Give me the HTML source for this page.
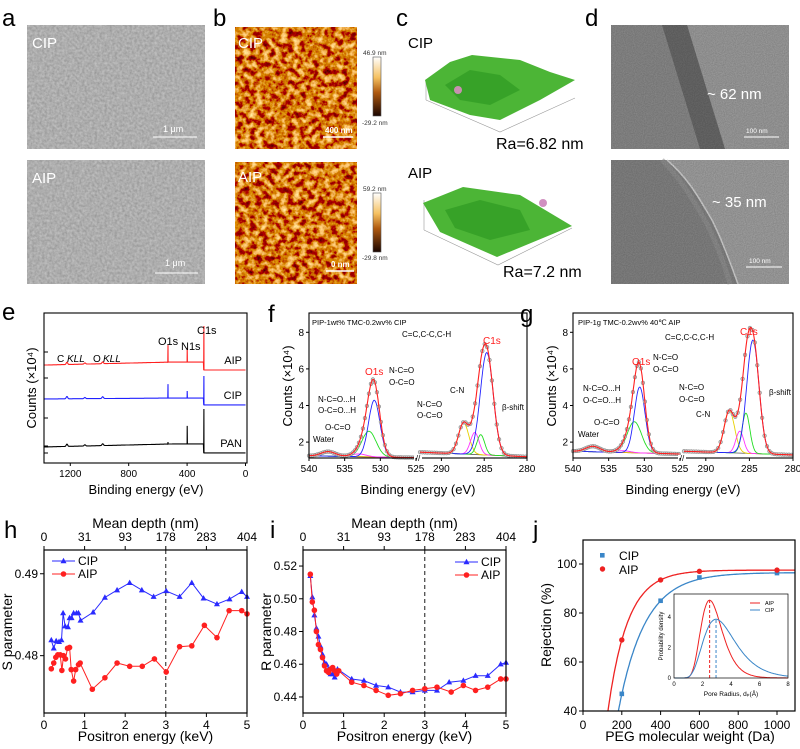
<!DOCTYPE html>
<html><head><meta charset="utf-8"><style>
html,body{margin:0;padding:0;background:#fff;overflow:hidden;width:800px;height:749px;}
svg{display:block;font-family:"Liberation Sans",Arial,sans-serif;}
</style></head><body>
<svg id="fig" xmlns="http://www.w3.org/2000/svg" width="800" height="749" viewBox="0 0 800 749">
<defs>
<filter id="semF" x="0" y="0" width="1" height="1"><feTurbulence type="fractalNoise" baseFrequency="0.4" numOctaves="2" seed="3"/><feColorMatrix type="matrix" values="0.3 0 0 0 0.27 0.3 0 0 0 0.27 0.3 0 0 0 0.27 0 0 0 0 1"/></filter>
<filter id="afmF" x="0" y="0" width="1" height="1"><feTurbulence type="fractalNoise" baseFrequency="0.16" numOctaves="3" seed="7"/><feColorMatrix type="matrix" values="1.6 0 0 0 -0.15 1.7 0 0 0 -0.65 1.0 0 0 0 -0.55 0 0 0 0 1"/></filter>
<filter id="temF" x="0" y="0" width="1" height="1"><feTurbulence type="fractalNoise" baseFrequency="0.9" numOctaves="1" seed="2"/><feColorMatrix type="matrix" values="0 0 0 0 0 0 0 0 0 0 0 0 0 0 0 0.25 0 0 0 0"/></filter>
<linearGradient id="cbar" x1="0" y1="0" x2="0" y2="1"><stop offset="0" stop-color="#ffffff"/><stop offset="0.35" stop-color="#f5c060"/><stop offset="0.6" stop-color="#b05a10"/><stop offset="1" stop-color="#1a0500"/></linearGradient>
</defs>

<g font-size="24" fill="#000">
<text x="2" y="26">a</text><text x="213" y="26">b</text><text x="396" y="26">c</text><text x="585" y="26">d</text>
<text x="2" y="320">e</text><text x="268" y="322">f</text><text x="520" y="322">g</text>
<text x="4" y="538">h</text><text x="270" y="538">i</text><text x="533" y="538">j</text>
</g>

<g>
<rect x="27" y="25" width="178" height="124" fill="#9a9a9a"/>
<rect x="27" y="25" width="178" height="124" filter="url(#semF)"/>
<rect x="27" y="160" width="178" height="124" fill="#9a9a9a"/>
<rect x="27" y="160" width="178" height="124" filter="url(#semF)"/>
<text x="32" y="48" font-size="15" fill="#fff">CIP</text>
<text x="32" y="183" font-size="15" fill="#fff">AIP</text>
<text x="163" y="132" font-size="9" fill="#fff">1 μm</text>
<line x1="153" y1="137" x2="197" y2="137" stroke="#fff" stroke-width="1"/>
<text x="165" y="266" font-size="9" fill="#fff">1 μm</text>
<line x1="155" y1="273" x2="198" y2="273" stroke="#fff" stroke-width="1"/>
</g>

<g>
<rect x="235" y="27" width="122" height="122" fill="#b86a18"/>
<rect x="235" y="27" width="122" height="122" filter="url(#afmF)"/>
<rect x="235" y="162" width="122" height="122" fill="#b86a18"/>
<rect x="235" y="162" width="122" height="122" filter="url(#afmF)"/>
<text x="238" y="48" font-size="15" fill="#fff">CIP</text>
<text x="238" y="182" font-size="15" fill="#fff">AIP</text>
<text x="325" y="133" font-size="8" font-weight="bold" fill="#fff">400 nm</text>
<line x1="323" y1="137" x2="353" y2="137" stroke="#fff" stroke-width="1.5"/>
<text x="331" y="267" font-size="8" font-weight="bold" fill="#fff">0 nm</text>
<line x1="326" y1="271" x2="354" y2="271" stroke="#fff" stroke-width="1.5"/>
<rect x="373" y="57" width="8" height="59" fill="url(#cbar)" stroke="#555" stroke-width="0.6"/>
<rect x="373" y="193" width="8" height="59" fill="url(#cbar)" stroke="#555" stroke-width="0.6"/>
<text x="363" y="55" font-size="6.5" fill="#333">46.9 nm</text>
<text x="362" y="125" font-size="6.5" fill="#333">-29.2 nm</text>
<text x="363" y="191" font-size="6.5" fill="#333">59.2 nm</text>
<text x="362" y="260" font-size="6.5" fill="#333">-29.8 nm</text>
</g>

<g>
<text x="408" y="48" font-size="15">CIP</text>
<polyline points="426,100 500,132 575,98" fill="none" stroke="#999" stroke-width="0.6"/>
<line x1="426" y1="80" x2="426" y2="100" stroke="#999" stroke-width="0.6"/>
<polygon points="425,80 450,62 472,55 520,60 550,72 575,80 540,100 500,120 470,115 430,100" fill="#4cb536"/>
<polygon points="445,85 470,70 500,75 520,90 490,105 460,100" fill="#2f9a22" opacity="0.7"/>
<circle cx="458" cy="90" r="4" fill="#c890b0"/>
<text x="496" y="149" font-size="16">Ra=6.82 nm</text>
<text x="408" y="178" font-size="15">AIP</text>
<polyline points="424,230 498,265 572,228" fill="none" stroke="#999" stroke-width="0.6"/>
<line x1="424" y1="200" x2="424" y2="230" stroke="#999" stroke-width="0.6"/>
<polygon points="423,203 463,187 520,195 572,226 497,257 440,232" fill="#4cb536"/>
<polygon points="445,210 480,200 520,210 530,230 490,240 455,228" fill="#2f9a22" opacity="0.7"/>
<circle cx="543" cy="203" r="4" fill="#d090c0"/>
<text x="503" y="277" font-size="16">Ra=7.2 nm</text>
</g>

<g>
<rect x="611" y="25" width="178" height="124" fill="#8e8e8e"/>
<polygon points="687,25 789,25 789,149 725,149" fill="#a2a2a2"/>
<polygon points="662,25 687,25 725,149 700,149" fill="#6c6c6c"/>
<rect x="611" y="25" width="178" height="124" filter="url(#temF)"/>
<text x="707" y="99" font-size="15" fill="#fff">~ 62 nm</text>
<text x="746" y="133" font-size="6.5" fill="#fff">100 nm</text>
<line x1="744" y1="137" x2="779" y2="137" stroke="#fff" stroke-width="1"/>
<rect x="611" y="160" width="178" height="124" fill="#878787"/>
<path d="M667,160 C690,180 700,200 712,220 C722,240 730,262 738,284 L789,284 L789,160 Z" fill="#a6a6a6"/>
<path d="M667,160 C690,180 700,200 712,220 C722,240 730,262 738,284" fill="none" stroke="#d8d8d8" stroke-width="1.5"/>
<path d="M662,160 C684,182 694,202 706,222 C716,242 724,262 730,284" fill="none" stroke="#9a9a9a" stroke-width="5" opacity="0.6"/>
<rect x="611" y="160" width="178" height="124" filter="url(#temF)"/>
<text x="712" y="207" font-size="15" fill="#fff">~ 35 nm</text>
<text x="749" y="263" font-size="6.5" fill="#fff">100 nm</text>
<line x1="746" y1="267" x2="782" y2="267" stroke="#fff" stroke-width="1"/>
</g>

<g id="charts"></g>
</svg>
<script>
// ===== Panel e: XPS survey (arbitrary count units) =====
const surveyNames = ["AIP","CIP","PAN"];
const surveyBaseLeft = [6.53, 4.27, 1.07];
const surveyBaseMid = [6.73, 4.33, 1.27];
const surveyBaseEnd = [6.2, 3.87, 0.67];
const surveyO1s = [1.13, 0.93, 0.13];
const surveyN1s = [0.93, 0.47, 1.2];
const surveyC1s = [2.4, 1.47, 2.33];
const surveyColors = ["#ff2020","#2020ff","#000000"];
// ===== Panels f, g =====
const fO_centers = [537.3, 533.0, 531.6, 530.85];
const fO_heights = [0.25, 0.15, 1.4, 3.1];
const fO_widths = [1.0, 1.0, 1.0, 0.8];
const fC_centers = [287.4, 286.1, 285.4, 284.7];
const fC_heights = [1.7, 1.2, 1.1, 5.6];
const fC_widths = [0.6, 0.5, 0.45, 0.75];
const gO_centers = [537.2, 533.0, 531.4, 530.65];
const gO_heights = [0.3, 0.1, 1.7, 3.6];
const gO_widths = [1.0, 1.0, 1.0, 0.75];
const gC_centers = [287.3, 286.1, 285.4, 284.6];
const gC_heights = [2.3, 1.2, 2.2, 6.2];
const gC_widths = [0.6, 0.45, 0.45, 0.7];
const oColors = ["#e8b000","#ff33ff","#22dd22","#2222ff"];
const cColors = ["#e8d000","#ff33ff","#22dd22","#2222ff"];
// ===== Panel h =====
const hE_CIP = [0.18,0.24,0.30,0.37,0.43,0.47,0.52,0.59,0.63,0.68,0.73,0.80,0.85,0.90,1.21,1.50,1.80,2.11,2.41,2.70,3.01,3.34,3.64,3.93,4.26,4.57,4.87,5.0];
const hS_CIP = [0.4819,0.4809,0.4818,0.4817,0.4819,0.4852,0.4836,0.4835,0.4846,0.4846,0.4852,0.4852,0.4852,0.4843,0.4853,0.4871,0.4880,0.4889,0.4880,0.4872,0.4879,0.4872,0.4889,0.4870,0.4863,0.4869,0.4878,0.4872];
const hE_AIP = [0.18,0.24,0.29,0.34,0.40,0.44,0.48,0.53,0.58,0.63,0.67,0.73,0.78,0.85,0.89,1.19,1.50,1.80,2.11,2.42,2.72,3.01,3.34,3.64,3.95,4.26,4.56,4.87,5.0];
const hS_AIP = [0.4784,0.4791,0.4798,0.4801,0.4801,0.4782,0.4800,0.4796,0.4809,0.4810,0.4783,0.4769,0.4783,0.4789,0.4791,0.4759,0.4773,0.4791,0.4787,0.4787,0.4796,0.4780,0.4811,0.4812,0.4837,0.4822,0.4855,0.4855,0.4851];
const depthTicks = ["0","31","93","178","283","404"];
const energyTicks = [0,1,2,3,4,5];
const sTicks = [0.48,0.49];
// ===== Panel i =====
const iE_CIP = [0.18,0.23,0.28,0.33,0.38,0.43,0.48,0.53,0.58,0.63,0.68,0.73,0.78,0.85,1.2,1.5,1.8,2.1,2.4,2.7,3.0,3.3,3.6,3.95,4.25,4.55,4.87,5.0];
const iR_CIP = [0.514,0.501,0.490,0.482,0.477,0.471,0.466,0.461,0.460,0.457,0.454,0.454,0.452,0.457,0.451,0.450,0.447,0.446,0.443,0.443,0.444,0.444,0.449,0.450,0.453,0.453,0.460,0.461];
const iE_AIP = [0.18,0.23,0.28,0.33,0.38,0.43,0.48,0.53,0.58,0.63,0.68,0.73,0.78,0.83,0.88,1.2,1.5,1.8,2.1,2.4,2.7,3.0,3.3,3.65,3.95,4.25,4.55,4.87,5.0];
const iR_AIP = [0.515,0.498,0.493,0.480,0.472,0.469,0.464,0.459,0.456,0.455,0.457,0.458,0.456,0.454,0.456,0.449,0.447,0.444,0.441,0.442,0.444,0.445,0.446,0.443,0.447,0.444,0.446,0.451,0.451];
const rTicks = [0.44,0.46,0.48,0.50,0.52];
// ===== Panel j =====
const pegMW = [200,400,600,1000];
const rejCIP = [47,85,94.5,96.3];
const rejAIP = [69,93.5,97,97.5];
const fitCIP = [96.5,109,137];
const fitAIP = [97.5,75,101.7];
const mwTicks = [0,200,400,600,800,1000];
const rejTicks = [40,60,80,100];
const poreMode = [2.5,2.95];
const porePeak = [5.1,3.85];
const poreSigma = [0.3,0.38];
const poreXTicks = [0,2,4,6,8];
const poreYTicks = [0,2,4];

const NS='http://www.w3.org/2000/svg';
const root=document.getElementById('charts');
function mk(tag,attrs,parent){const e=document.createElementNS(NS,tag);for(const k in attrs)e.setAttribute(k,attrs[k]);(parent||root).appendChild(e);return e;}
function txt(x,y,s,size,anchor,fill,parent){const t=mk('text',{x:x,y:y,'font-size':size,'text-anchor':anchor||'start',fill:fill||'#000'},parent);t.textContent=s;return t;}
function lin(d0,d1,p0,p1){return v=>p0+(v-d0)/(d1-d0)*(p1-p0);}
function gauss(x,c,h,w){return h*Math.exp(-(x-c)*(x-c)/(2*w*w));}

// ---------- Panel e ----------
(function(){
  const g=mk('g',{});
  
  
  const X=lin(0,1380,245.5,44), Y=lin(0,10,463,313);
  surveyNames.forEach((n,i)=>{
    const base=E=>{
      if(E>500) return surveyBaseLeft[i]+(surveyBaseMid[i]-surveyBaseLeft[i])*(1380-E)/880;
      if(E>286) return surveyBaseMid[i];
      return surveyBaseEnd[i];
    };
    const pts=[];
    for(let E=1380;E>=0;E-=2){
      let v=base(E)+gauss(E,1223,0.15,5)+gauss(E,1100,0.08,5)+gauss(E,978,0.12,5);
      pts.push([X(E).toFixed(1),Y(v).toFixed(1)]);
      if(E===532){pts.push([X(531).toFixed(1),Y(surveyBaseMid[i]+surveyO1s[i]).toFixed(1)]);}
      if(E===400){pts.push([X(399).toFixed(1),Y(surveyBaseMid[i]+surveyN1s[i]).toFixed(1)]);}
      if(E===286){pts.push([X(285).toFixed(1),Y(surveyBaseMid[i]+surveyC1s[i]).toFixed(1)]);}
    }
    const p=mk('polyline',{points:pts.map(q=>q.join(',')).join(' '),fill:'none',stroke:surveyColors[i],'stroke-width':1.1},g);
    
    
    const lb=txt(242,Y(surveyBaseEnd[i])-6,n,11,'end','#000',g);
    
    
  });
  mk('rect',{x:44,y:313,width:203,height:150,fill:'none',stroke:'#000','stroke-width':1.1},g);
  [1200,800,400,0].forEach(t=>{mk('line',{x1:X(t),y1:463,x2:X(t),y2:466,stroke:'#000'},g);
    const tl=txt(X(t),477,String(t),10,'middle','#000',g);
    
    });
  [352,378,418,446,453].forEach(y=>mk('line',{x1:44,y1:y,x2:48,y2:y,stroke:'#000'},g));
  txt(57,362,'C ',10,'start','#000',g); txt(67,362,'KLL',10,'start','#000',g).setAttribute('font-style','italic');
  txt(93,362,'O ',10,'start','#000',g); txt(103,362,'KLL',10,'start','#000',g).setAttribute('font-style','italic');
  txt(158,345,'O1s',11,'start','#000',g); txt(181,350,'N1s',11,'start','#000',g); txt(197,334,'C1s',11,'start','#000',g);
  const xt=txt(146,494,'Binding energy (eV)',13,'middle','#000',g);
  
  
  const yt=txt(0,0,'Counts (×10⁴)',13,'middle','#000',g);
  yt.setAttribute('transform','translate(36,388) rotate(-90)');
  
  
})();

// ---------- Panels f,g ----------
function xpsPanel(name,L,Bx,R,oC,oH,oW,cC,cH,cW,baseO,baseC){
  const g=mk('g',{});
  
  
  const Y=lin(1,8,460.4,332.3);
  const XO=lin(540,525,L,Bx-2), XC=lin(292.5,280,Bx+2,R);
  function region(X,e0,e1,cs,hs,ws,cols,base,kind){
    const bl=e=>base[0]+(base[1]-base[0])*(e0-e)/(e0-e1);
    mk('polyline',{points:[[X(e0),Y(bl(e0))],[X(e1),Y(bl(e1))]].map(q=>q.join(',')).join(' '),stroke:'#555','stroke-width':0.8,fill:'none'},g);
    cs.forEach((c,k)=>{
      const pts=[];for(let e=e0;e>=e1;e-=0.1){pts.push(X(e).toFixed(1)+','+Y(bl(e)+gauss(e,c,hs[k],ws[k])).toFixed(1));}
      const pl=mk('polyline',{points:pts.join(' '),fill:'none',stroke:cols[k],'stroke-width':0.9},g);
      
      
    });
    const env=e=>{let v=bl(e);cs.forEach((c,k)=>v+=gauss(e,c,hs[k],ws[k]));return v;};
    for(let e=e0;e>=e1;e-=0.28){const ci=mk('circle',{cx:X(e),cy:Y(env(e)),r:1.8,fill:'#ccc',stroke:'#888','stroke-width':0.6},g);
      
      }
    const pts=[];for(let e=e0;e>=e1;e-=0.08){pts.push(X(e).toFixed(1)+','+Y(env(e)).toFixed(1));}
    const en=mk('polyline',{points:pts.join(' '),fill:'none',stroke:'#ff2020','stroke-width':1.1},g);
    
    
  }
  region(XO,540,525,oC,oH,oW,oColors,baseO,'o1s');
  region(XC,292.5,280,cC,cH,cW,cColors,baseC,'c1s');
  mk('rect',{x:L,y:313,width:R-L,height:145,fill:'none',stroke:'#000','stroke-width':1.1},g);
  mk('rect',{x:Bx-4,y:455,width:8,height:6,fill:'#fff'},g);
  txt(Bx,461,'//',8,'middle','#000',g);
  [2,4,6,8].forEach(v=>{mk('line',{x1:L-3,y1:Y(v),x2:L,y2:Y(v),stroke:'#000'},g);
    const t=txt(L-5,Y(v)+3.5,String(v),10,'end','#000',g);
    
    });
  [540,535,530,525].forEach(v=>{mk('line',{x1:XO(v),y1:458,x2:XO(v),y2:461,stroke:'#000'},g);txt(XO(v),472,String(v),10,'middle','#000',g);});
  [290,285,280].forEach(v=>{mk('line',{x1:XC(v),y1:458,x2:XC(v),y2:461,stroke:'#000'},g);txt(XC(v),472,String(v),10,'middle','#000',g);});
  const xt=txt((L+R)/2,494,'Binding energy (eV)',13,'middle','#000',g);
  
  
  const yt=txt(0,0,'Counts (×10⁴)',13,'middle','#000',g);
  yt.setAttribute('transform','translate('+(L-17)+',386) rotate(-90)');
  
  
  return g;
}
const gf=xpsPanel('f',309,418,527,fO_centers,fO_heights,fO_widths,fC_centers,fC_heights,fC_widths,[1.25,1.15],[1.45,1.2]);
txt(312,325,'PIP-1wt%  TMC-0.2wv%  CIP',7.5,'start','#000',gf);
txt(402,337,'C=C,C-C,C-H',8,'start','#000',gf);
txt(483,344,'C1s',10,'start','#ff2020',gf);
txt(365,375,'O1s',10,'start','#ff2020',gf);
txt(389,373,'N-C=O',8,'start','#000',gf);txt(389,385,'O-C=O',8,'start','#000',gf);
txt(318,402,'N-C=O...H',8,'start','#000',gf);txt(318,413,'O-C=O...H',8,'start','#000',gf);
txt(325,430,'O-C=O',8,'start','#000',gf);txt(313,442,'Water',8,'start','#000',gf);
txt(417,407,'N-C=O',8,'start','#000',gf);txt(417,418,'O-C=O',8,'start','#000',gf);
txt(450,393,'C-N',8,'start','#000',gf);txt(502,410,'β-shift',8,'start','#000',gf);
const gg=xpsPanel('g',573,682,793,gO_centers,gO_heights,gO_widths,gC_centers,gC_heights,gC_widths,[1.5,1.35],[1.5,1.3]);
txt(578,325,'PIP-1g  TMC-0.2wv%  40℃ AIP',7.5,'start','#000',gg);
txt(740,335,'C1s',10,'start','#ff2020',gg);
txt(665,340,'C=C,C-C,C-H',8,'start','#000',gg);
txt(632,365,'O1s',10,'start','#ff2020',gg);
txt(653,360,'N-C=O',8,'start','#000',gg);txt(653,372,'O-C=O',8,'start','#000',gg);
txt(583,391,'N-C=O...H',8,'start','#000',gg);txt(583,403,'O-C=O...H',8,'start','#000',gg);
txt(594,425,'O-C=O',8,'start','#000',gg);txt(578,437,'Water',8,'start','#000',gg);
txt(679,390,'N-C=O',8,'start','#000',gg);txt(679,402,'O-C=O',8,'start','#000',gg);
txt(696,417,'C-N',8,'start','#000',gg);txt(769,395,'β-shift',8,'start','#000',gg);

// ---------- Panels h, i ----------
function positronPanel(name,L,R,ymin,ymax,yTicks,ylabel,eC,vC,eA,vA,legX,legY,fmt){
  const g=mk('g',{});
  
  
  const X=lin(0,5,L,R), Y=lin(ymin,ymax,713,550);
  const dl=mk('line',{x1:X(3),y1:550,x2:X(3),y2:713,stroke:'#000','stroke-dasharray':'4,3','stroke-width':0.9},g);
  
  
  function series(es,vs,col,tri,sname){
    const pl=mk('polyline',{points:es.map((e,k)=>X(e).toFixed(1)+','+Y(vs[k]).toFixed(1)).join(' '),fill:'none',stroke:col,'stroke-width':1},g);
    
    
    es.forEach((e,k)=>{const x=X(e),y=Y(vs[k]);let m;
      if(x>R+0.5)return;
      if(tri)m=mk('polygon',{points:`${x},${y-3.2} ${x-3},${y+2.2} ${x+3},${y+2.2}`,fill:col},g);
      else m=mk('circle',{cx:x,cy:y,r:2.8,fill:col},g);
      
      });
  }
  series(eC,vC,'#2a2aff',true,'cip');
  series(eA,vA,'#ff2020',false,'aip');
  mk('rect',{x:L,y:550,width:R-L,height:163,fill:'none',stroke:'#000','stroke-width':1.2},g);
  energyTicks.forEach((t,k)=>{
    mk('line',{x1:X(t),y1:713,x2:X(t),y2:717,stroke:'#000'},g);
    mk('line',{x1:X(t),y1:550,x2:X(t),y2:546,stroke:'#000'},g);
    const tl=txt(X(t),729,String(t),12,'middle','#000',g);
    
    
    const dt=txt(X(t),541,depthTicks[k],12,'middle','#000',g);
    
    
  });
  yTicks.forEach(v=>{mk('line',{x1:L-4,y1:Y(v),x2:L,y2:Y(v),stroke:'#000'},g);
    const t=txt(L-6,Y(v)+4,v.toFixed(fmt),12,'end','#000',g);
    
    });
  const tt=txt((L+R)/2,528,'Mean depth (nm)',14,'middle','#000',g);
  
  
  const xt=txt((L+R)/2,741,'Positron energy (keV)',14,'middle','#000',g);
  
  
  const yt=txt(0,0,ylabel,14,'middle','#000',g);
  yt.setAttribute('transform','translate('+(L-32)+',632) rotate(-90)');
  
  
  const lg=mk('g',{},g);
  
  
  mk('line',{x1:legX,y1:legY,x2:legX+23,y2:legY,stroke:'#2a2aff'},lg);
  mk('polygon',{points:`${legX+11.5},${legY-3.2} ${legX+8.5},${legY+2.2} ${legX+14.5},${legY+2.2}`,fill:'#2a2aff'},lg);
  txt(legX+26,legY+4,'CIP',12,'start','#000',lg);
  mk('line',{x1:legX,y1:legY+13,x2:legX+23,y2:legY+13,stroke:'#ff2020'},lg);
  mk('circle',{cx:legX+11.5,cy:legY+13,r:2.8,fill:'#ff2020'},lg);
  txt(legX+26,legY+17,'AIP',12,'start','#000',lg);
}
positronPanel('h',44,247,0.4730,0.4929,sTicks,'S parameter',hE_CIP,hS_CIP,hE_AIP,hS_AIP,52,561,2);
positronPanel('i',303,506,0.4302,0.5298,rTicks,'R parameter',iE_CIP,iR_CIP,iE_AIP,iR_AIP,455,562,2);

// ---------- Panel j ----------
(function(){
  const g=mk('g',{});
  
  
  const X=lin(0,1000,583,777), Y=lin(40,100,711,564);
  const clip=mk('clipPath',{id:'jclip'},g); mk('rect',{x:583,y:540,width:212,height:171},clip);
  function fit(p,col,sname){
    const pts=[];for(let m=p[1]+1;m<=1100;m+=4){pts.push(X(m).toFixed(1)+','+Y(p[0]*(1-Math.exp(-(m-p[1])/p[2]))).toFixed(1));}
    const pl=mk('polyline',{points:pts.join(' '),fill:'none',stroke:col,'stroke-width':1.3,'clip-path':'url(#jclip)'},g);
    
    
  }
  fit(fitCIP,'#3a86c8','cip'); fit(fitAIP,'#ee2222','aip');
  pegMW.forEach((m,k)=>{
    const s=mk('rect',{x:X(m)-2.3,y:Y(rejCIP[k])-2.3,width:4.6,height:4.6,fill:'#3a86c8'},g);
    
    
    const c=mk('circle',{cx:X(m),cy:Y(rejAIP[k]),r:2.7,fill:'#ee2222'},g);
    
    
  });
  mk('rect',{x:583,y:540,width:212,height:171,fill:'none',stroke:'#000','stroke-width':1.2},g);
  mwTicks.forEach(t=>{mk('line',{x1:X(t),y1:711,x2:X(t),y2:715,stroke:'#000'},g);
    const tl=txt(X(t),729,String(t),12,'middle','#000',g);
    
    });
  rejTicks.forEach(v=>{mk('line',{x1:579,y1:Y(v),x2:583,y2:Y(v),stroke:'#000'},g);
    const tl=txt(577,Y(v)+4,String(v),12,'end','#000',g);
    
    });
  const xt=txt(690,741,'PEG molecular weight (Da)',14,'middle','#000',g);
  
  
  const yt=txt(0,0,'Rejection (%)',14,'middle','#000',g);
  yt.setAttribute('transform','translate(551,625) rotate(-90)');
  
  
  const lg=mk('g',{},g);
  
  
  mk('rect',{x:600,y:553,width:4.6,height:4.6,fill:'#3a86c8'},lg);
  txt(619,560,'CIP',12,'start','#000',lg);
  mk('circle',{cx:602.5,cy:569,r:2.7,fill:'#ee2222'},lg);
  txt(619,574,'AIP',12,'start','#000',lg);
  const ig=mk('g',{},g);
  
  
  mk('rect',{x:674,y:594,width:114,height:84,fill:'#fff'},ig);
  const IX=lin(0,8,674,788), IY=lin(0,4,678,617);
  const cols=['#ee2222','#3a86c8'], nm=['aip','cip'];
  poreMode.forEach((md,k)=>{
    const s=poreSigma[k], mu=Math.log(md)+s*s;
    const shape=r=>Math.exp(-Math.pow(Math.log(r)-mu,2)/(2*s*s))/r;
    const pk=shape(md);
    const pts=[];for(let r=0.05;r<=8;r+=0.05){pts.push(IX(r).toFixed(1)+','+IY(porePeak[k]*shape(r)/pk).toFixed(1));}
    const pl=mk('polyline',{points:pts.join(' '),fill:'none',stroke:cols[k],'stroke-width':1},ig);
    
    
    const dl=mk('line',{x1:IX(md),y1:678,x2:IX(md),y2:IY(porePeak[k]),stroke:cols[k],'stroke-dasharray':'3,2','stroke-width':1},ig);
    
    
  });
  mk('rect',{x:674,y:594,width:114,height:84,fill:'none',stroke:'#000','stroke-width':0.7},ig);
  poreXTicks.forEach(t=>txt(IX(t),686,String(t),6,'middle','#000',ig));
  poreYTicks.forEach(v=>txt(671,IY(v)+2,String(v),6,'end','#000',ig));
  txt(731,696,'Pore Radius, dₚ(Å)',6.5,'middle','#000',ig);
  const it=txt(0,0,'Probability density',6,'middle','#000',ig);
  it.setAttribute('transform','translate(663,636) rotate(-90)');
  mk('line',{x1:750,y1:603,x2:760,y2:603,stroke:'#ee2222'},ig);txt(765,605,'AIP',5.5,'start','#000',ig);
  mk('line',{x1:750,y1:610,x2:760,y2:610,stroke:'#3a86c8'},ig);txt(765,612,'CIP',5.5,'start','#000',ig);
})();
</script>
</body></html>
